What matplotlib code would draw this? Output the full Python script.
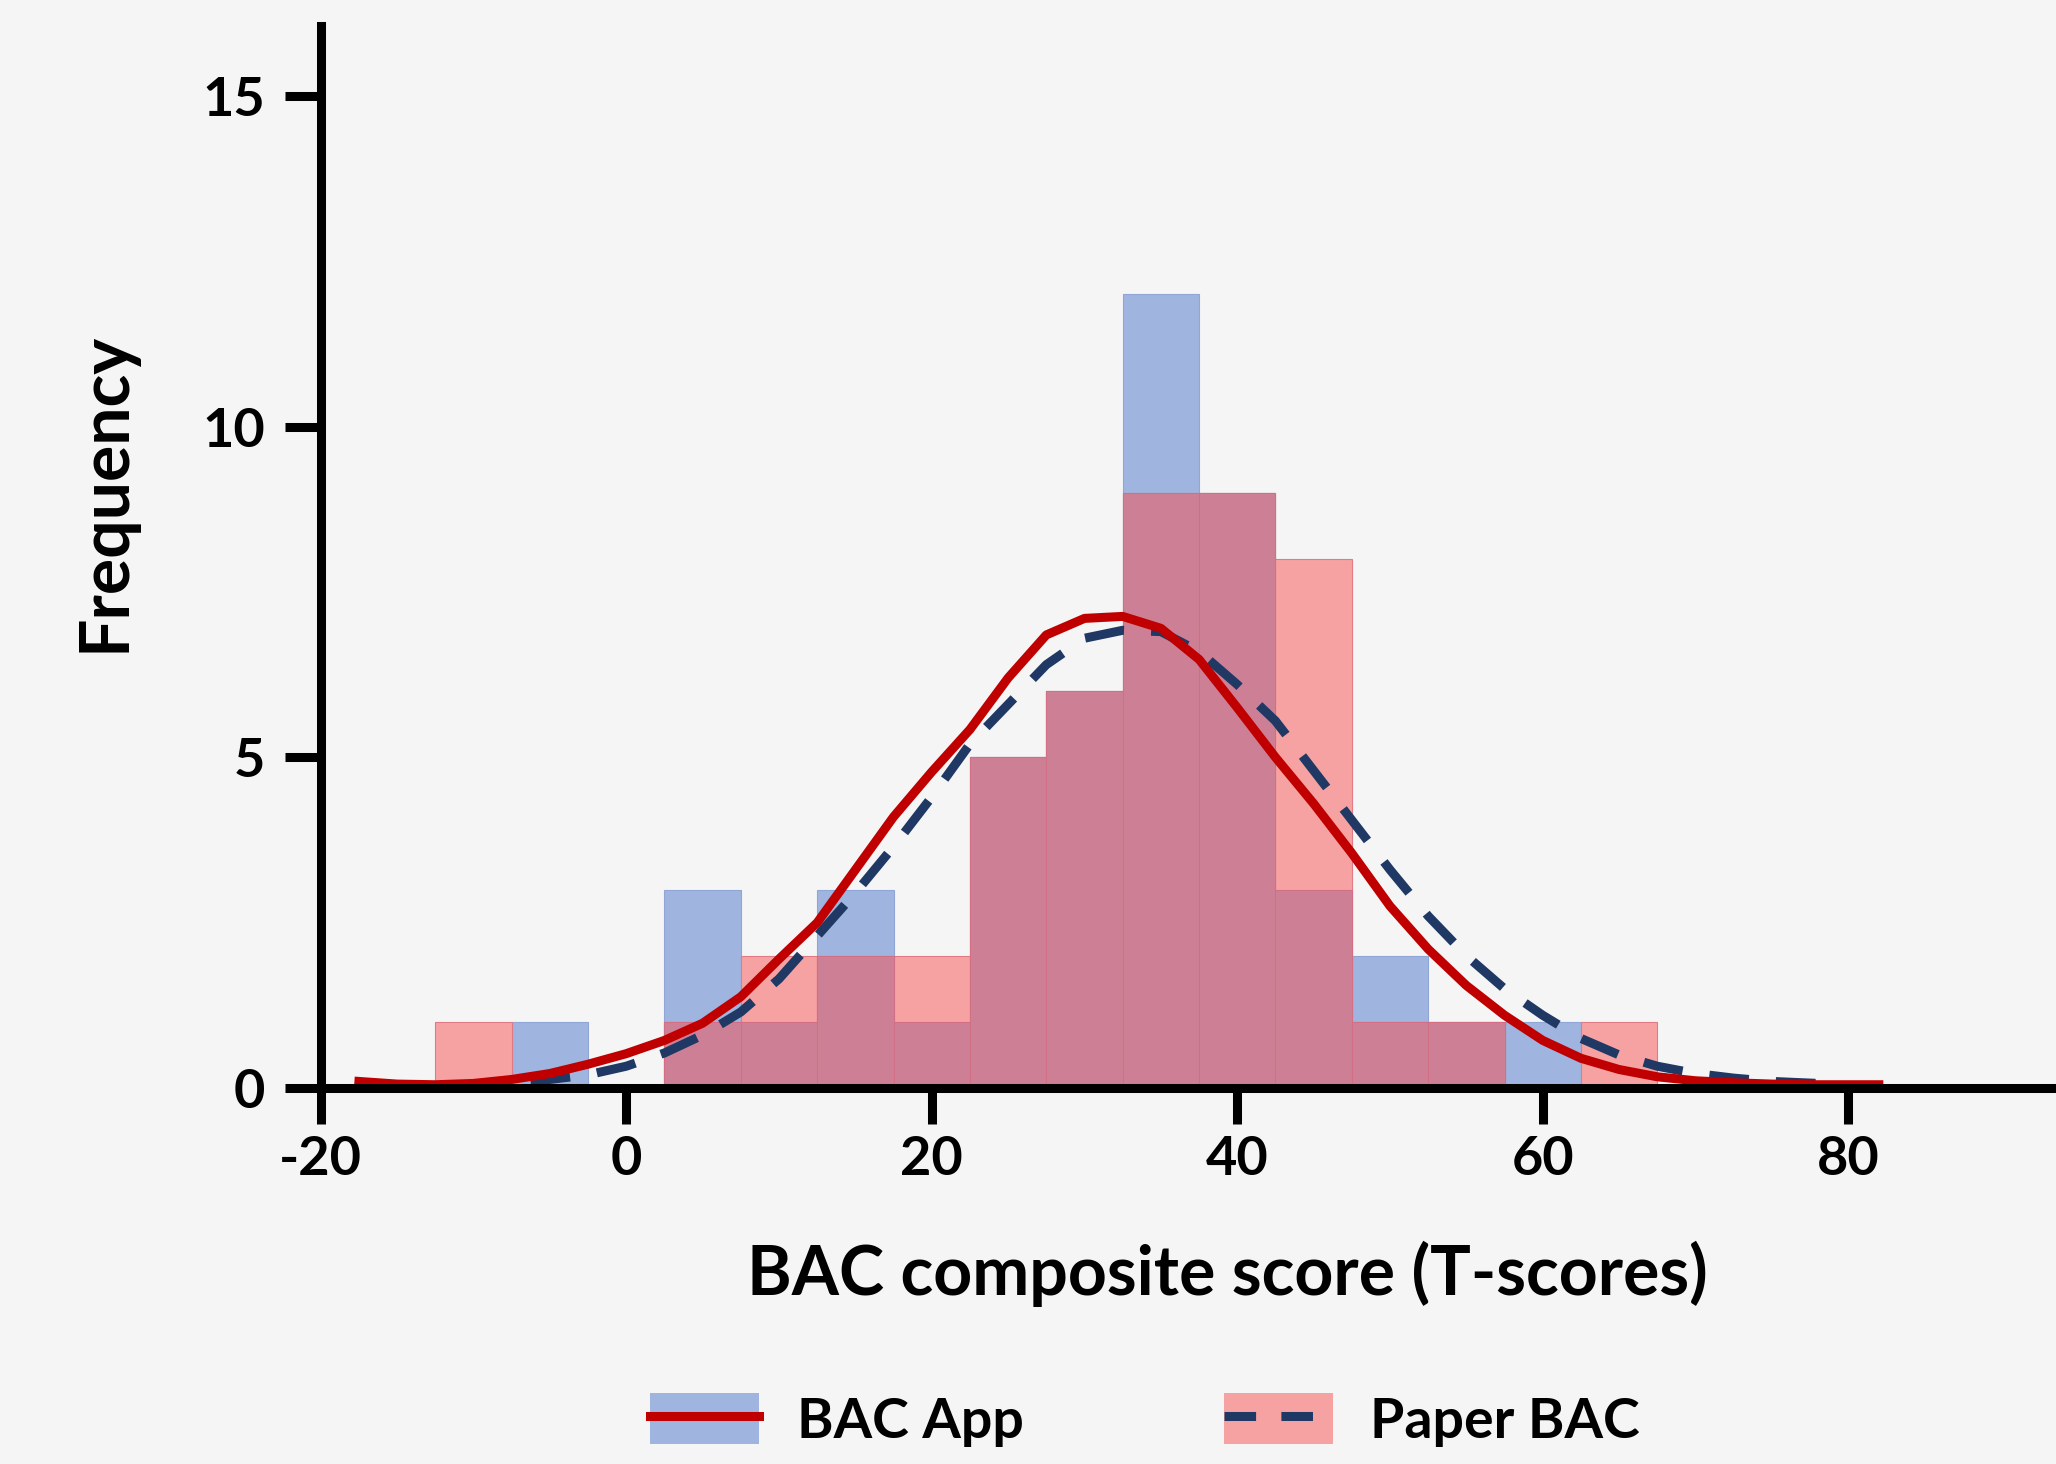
import numpy as np
import matplotlib
matplotlib.use("Agg")
import matplotlib.pyplot as plt
from matplotlib.patches import Patch
from matplotlib.lines import Line2D

plt.rcParams['font.family'] = ['Lato', 'DejaVu Sans']
plt.rcParams['axes.unicode_minus'] = False

# histogram bins (width 5, centred on these values)
bin_centers = [-10, -5, 0, 5, 10, 15, 20, 25, 30, 35, 40, 45, 50, 55, 60, 65]
app_counts = [0, 1, 0, 3, 1, 3, 1, 5, 6, 12, 9, 3, 2, 1, 1, 0]
paper_counts = [1, 0, 0, 1, 2, 2, 2, 5, 6, 9, 9, 8, 1, 1, 0, 1]

# smoothed density curves (scaled to frequency)
app_curve_x = [-17.5, -15, -12.5, -10, -7.5, -5, -2.5, 0, 2.5, 5, 7.5, 10, 12.5, 15, 17.5,
               20, 22.5, 25, 27.5, 30, 32.5, 35, 37.5, 40, 42.5, 45, 47.5, 50, 52.5, 55,
               57.5, 60, 62.5, 65, 67.5, 70, 72.5, 75, 77.5, 80, 82]
app_curve_y = [0.1, 0.06, 0.05, 0.07, 0.13, 0.22, 0.36, 0.52, 0.72, 0.98, 1.38, 1.95, 2.5,
               3.3, 4.1, 4.78, 5.42, 6.2, 6.85, 7.1, 7.13, 6.95, 6.48, 5.75, 5.0, 4.3, 3.55,
               2.75, 2.1, 1.55, 1.1, 0.72, 0.45, 0.28, 0.17, 0.11, 0.08, 0.06, 0.05, 0.05, 0.05]
paper_curve_x = [-15, -12.5, -10, -7.5, -5, -2.5, 0, 2.5, 5, 7.5, 10, 12.5, 15, 17.5, 20,
                 22.5, 25, 27.5, 30, 32.5, 35, 37.5, 40, 42.5, 45, 47.5, 50, 52.5, 55, 57.5,
                 60, 62.5, 65, 67.5, 70, 72.5, 75, 78]
paper_curve_y = [0.03, 0.03, 0.05, 0.08, 0.13, 0.2, 0.33, 0.53, 0.8, 1.15, 1.65, 2.3, 2.95,
                 3.65, 4.4, 5.2, 5.8, 6.4, 6.8, 6.92, 6.9, 6.6, 6.1, 5.55, 4.8, 4.05, 3.3,
                 2.6, 2.0, 1.5, 1.1, 0.75, 0.5, 0.33, 0.22, 0.15, 0.1, 0.07]

x_ticks = [-20, 0, 20, 40, 60, 80]
y_ticks = [0, 5, 10, 15]

bg = '#f5f5f5'
blue = '#9fb5df'
pink = '#f7a2a2'
mauve = '#cd8095'
red = '#c00000'
navy = '#1f3864'

fig = plt.figure(figsize=(20.56, 14.64), dpi=100, facecolor=bg)
ax = fig.add_axes([0.156, 0.2568, 0.844, 0.7252])
ax.set_facecolor(bg)

overlap = np.minimum(app_counts, paper_counts)
ax.bar(bin_centers, app_counts, width=5, color=blue, edgecolor='#8fa6d6', linewidth=0.8, zorder=1)
ax.bar(bin_centers, paper_counts, width=5, color=pink, edgecolor='#e07a85', linewidth=0.8, zorder=2)
ax.bar(bin_centers, overlap, width=5, color=mauve, edgecolor='#d26f85', linewidth=0.8, zorder=3)

ax.plot(paper_curve_x, paper_curve_y, color=navy, lw=6.5, ls=(0, (4.4, 3.0)), zorder=4)
ax.plot(app_curve_x, app_curve_y, color=red, lw=6.5, zorder=5, solid_joinstyle='round')

ax.set_xlim(-20, 93.6)
ax.set_ylim(0, 16.05)
ax.set_xticks(x_ticks)
ax.set_xticklabels([str(t) for t in x_ticks])
ax.set_yticks(y_ticks)

for s in ['top', 'right']:
    ax.spines[s].set_visible(False)
for s in ['left', 'bottom']:
    ax.spines[s].set_linewidth(6.5)
    ax.spines[s].set_zorder(6)

ax.tick_params(axis='both', length=26, width=6.5, direction='out', labelsize=39)
ax.tick_params(axis='x', pad=8)
ax.tick_params(axis='y', pad=14)
for lbl in ax.get_xticklabels() + ax.get_yticklabels():
    lbl.set_fontweight('bold')

fig.text(0.597, 0.13, 'BAC composite score (T-scores)', ha='center', va='center',
         fontsize=49, fontweight='bold')
fig.text(0.051, 0.664, 'Frequency', ha='center', va='center', rotation=90,
         fontsize=49, fontweight='bold')

handles = [(Patch(facecolor=blue), Line2D([], [], color=red, lw=6.5)),
           (Patch(facecolor=pink), Line2D([], [], color=navy, lw=6.5, ls=(0, (3.5, 2.8))))]
fig.legend(handles, ['BAC App', 'Paper BAC'], loc='center', bbox_to_anchor=(0.557, 0.03),
           ncol=2, frameon=False, prop={'size': 40, 'weight': 'bold'},
           handlelength=1.96, handleheight=1.03, handletextpad=0.68, columnspacing=3.6)

fig.savefig('out.png', dpi=100, facecolor=bg)
